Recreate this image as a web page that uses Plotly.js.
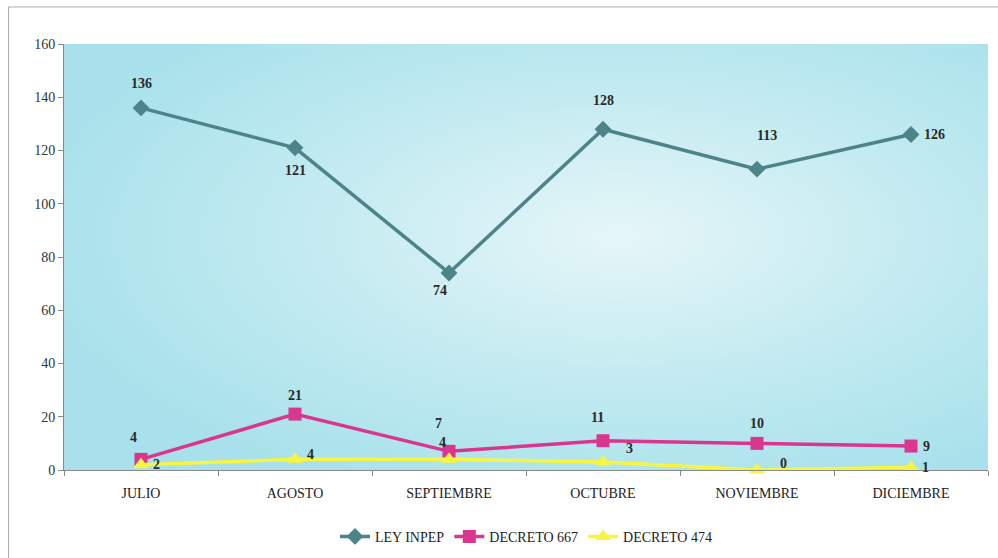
<!DOCTYPE html>
<html>
<head>
<meta charset="utf-8">
<script src="https://cdn.plot.ly/plotly-3.0.1.min.js"></script>
<style>
  html, body { margin: 0; padding: 0; background: #fff; }
  #chart { width: 998px; height: 558px; }
</style>
</head>
<body>
<div id="chart"></div>
<script>
// data
var meses = ["JULIO", "AGOSTO", "SEPTIEMBRE", "OCTUBRE", "NOVIEMBRE", "DICIEMBRE"];
var leyInpep = [136, 121, 74, 128, 113, 126];
var decreto667 = [4, 21, 7, 11, 10, 9];
var decreto474 = [2, 4, 4, 3, 0, 1];

var serif = "Liberation Serif, DejaVu Serif, serif";

// label offsets [dx, dy] in px, as placed in the original
var offLey = [[0, 24], [0, -23], [-9, -18], [0, 29], [10, 34], [23, 0]];
var off667 = [[-8, 22], [0, 19], [-11, 28], [-6, 23], [0, 20], [15, 0]];
var off474 = [[15, 0], [15, 5], [-7, 17], [26, 14], [26, 7], [14, 0]];

// soft background glow of the plot area
var bgSvg =
  '<svg xmlns="http://www.w3.org/2000/svg" width="924" height="426">' +
  '<defs><radialGradient id="g" cx="0.6" cy="0.45" r="0.65">' +
  '<stop offset="0" stop-color="#e6f6f8"/>' +
  '<stop offset="0.5" stop-color="#c4ebf1"/>' +
  '<stop offset="1" stop-color="#a8e1eb"/>' +
  '</radialGradient></defs>' +
  '<rect width="924" height="426" fill="url(#g)"/></svg>';

var data = [
  {
    x: meses, y: leyInpep, name: "LEY INPEP",
    type: "scatter", mode: "lines+markers",
    line: { color: "#4d8489", width: 3.5 },
    marker: { symbol: "diamond", size: 13, color: "#4d8489" },
    cliponaxis: false
  },
  {
    x: meses, y: decreto667, name: "DECRETO 667",
    type: "scatter", mode: "lines+markers",
    line: { color: "#d9368f", width: 3.5 },
    marker: { symbol: "square", size: 13, color: "#d9368f" },
    cliponaxis: false
  },
  {
    x: meses, y: decreto474, name: "DECRETO 474",
    type: "scatter", mode: "lines+markers",
    line: { color: "#f7f542", width: 3.5 },
    marker: { symbol: "triangle-up", size: 14, color: "#f7f542" },
    cliponaxis: false
  }
];

function labels(vals, offs) {
  return vals.map(function (v, i) {
    return {
      x: meses[i], y: v, xref: "x", yref: "y",
      text: "<b>" + v + "</b>", showarrow: false,
      xshift: offs[i][0], yshift: offs[i][1],
      font: { family: serif, size: 14, color: "#2a2a2a" }
    };
  });
}

var annotations = labels(leyInpep, offLey)
  .concat(labels(decreto667, off667))
  .concat(labels(decreto474, off474));

var layout = {
  width: 998, height: 558,
  margin: { l: 64, r: 10, t: 44, b: 88 },
  paper_bgcolor: "#fff",
  plot_bgcolor: "#b8e7ee",
  font: { family: serif, size: 14, color: "#222" },
  showlegend: true,
  legend: {
    orientation: "h", x: 0.5, xanchor: "center",
    yref: "container", y: 0.038, yanchor: "middle",
    font: { family: serif, size: 14, color: "#222" }
  },
  xaxis: {
    range: [-0.5, 5.5],
    showgrid: false, zeroline: false,
    showline: true, linecolor: "#888", linewidth: 1,
    ticks: "outside", tickson: "boundaries", ticklen: 5, tickcolor: "#888",
    ticklabelstandoff: 10,
    tickfont: { family: serif, size: 14, color: "#222" }
  },
  yaxis: {
    range: [0, 160], dtick: 20,
    showgrid: false, zeroline: false,
    showline: true, linecolor: "#888", linewidth: 1,
    ticks: "outside", ticklen: 5, tickcolor: "#888",
    tickfont: { family: serif, size: 14, color: "#333" }
  },
  annotations: annotations,
  images: [{
    source: "data:image/svg+xml;charset=utf-8," + encodeURIComponent(bgSvg),
    xref: "paper", yref: "paper", x: 0, y: 1, sizex: 1, sizey: 1,
    sizing: "stretch", xanchor: "left", yanchor: "top", layer: "below"
  }],
  shapes: [
    { type: "line", xref: "paper", yref: "paper", x0: -0.06, x1: 1.02, y0: 1.087, y1: 1.087,
      line: { color: "#aaa", width: 1 } },
    { type: "line", xref: "paper", yref: "paper", x0: -0.06, x1: -0.06, y0: 1.087, y1: -0.22,
      line: { color: "#aaa", width: 1 } }
  ]
};

Plotly.newPlot("chart", data, layout, { displayModeBar: false });
</script>
</body>
</html>
